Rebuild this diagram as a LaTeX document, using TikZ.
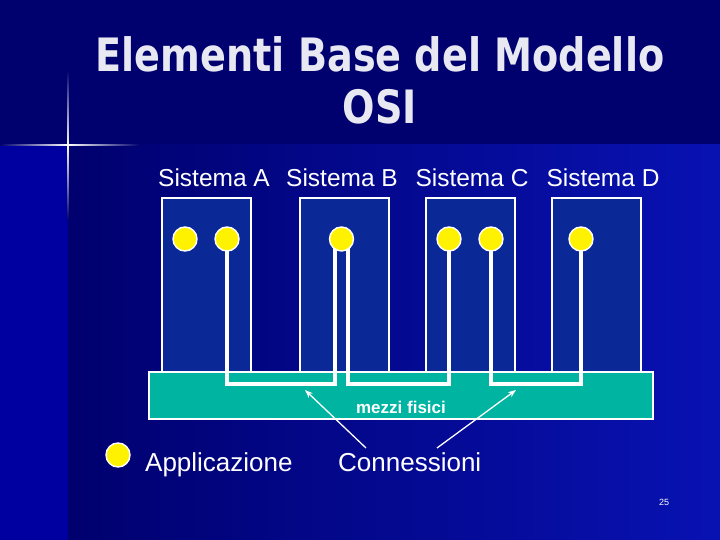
\documentclass[tikz,border=0pt]{standalone}
\usepackage{fontspec}
\setmainfont{Liberation Sans}
\newfontfamily\titlefont{DejaVu Sans}[FakeStretch=0.83]
\usepackage{tikz}
\usetikzlibrary{arrows.meta, calc, positioning}

\definecolor{navy}{RGB}{0,0,110}
\definecolor{brightblue}{RGB}{8,18,178}
\definecolor{stripblue}{RGB}{0,0,160}
\definecolor{boxblue}{RGB}{10,40,150}
\definecolor{teal}{RGB}{0,180,162}
\definecolor{titlegrey}{RGB}{232,232,242}

\tikzset{
  sysbox/.style={draw=white, line width=1.6pt, fill=boxblue, minimum width=89pt, minimum height=175pt, inner sep=0pt},
  band/.style={draw=white, line width=1.6pt, fill=teal, minimum width=504pt, minimum height=47pt, inner sep=0pt},
  app/.style={circle, draw=white, line width=1.4pt, fill=yellow, minimum size=24pt, inner sep=0pt},
  link/.style={draw=white, line width=4pt},
  hint/.style={draw=white, line width=1.3pt, -{Stealth[length=8pt,width=6pt]}},
  systxt/.style={text=white, anchor=base, inner sep=0pt, font=\fontsize{24.5}{26}\selectfont},
  legtxt/.style={text=white, anchor=base west, inner sep=0pt, font=\fontsize{26}{28}\selectfont},
  titletxt/.style={text=titlegrey, anchor=base, inner sep=0pt, font=\titlefont\bfseries\fontsize{46}{50}\selectfont},
}

\begin{document}
\begin{tikzpicture}[x=1pt,y=-1pt]
    \useasboundingbox (0,0) rectangle (720,540);
    % background and light flare
    \fill[navy] (0,0) rectangle (720,540);
    \shade[left color=navy, right color=brightblue] (68,145) rectangle (720,540);
    \fill[stripblue] (0,145) rectangle (68,540);
    \shade[left color=navy, right color=white] (0,144.3) rectangle (68,145.7);
    \shade[left color=white, right color=navy] (68,144.3) rectangle (140,145.7);
    \shade[top color=navy, bottom color=white] (67.3,70) rectangle (68.7,145);
    \shade[top color=white, bottom color=navy] (67.3,145) rectangle (68.7,220);

    % title
    \node[titletxt] (title) at (380,72) {Elementi Base del Modello};
    \node[titletxt] (titleosi) at (380,124) {OSI};

    % systems
    \node[sysbox] (sysA) at (206.5,285.5) {};
    \node[sysbox] (sysB) at (344.5,285.5) {};
    \node[sysbox] (sysC) at (470.5,285.5) {};
    \node[sysbox] (sysD) at (596.5,285.5) {};
    \node[systxt] (nameA) at (214,187) {Sistema A};
    \node[systxt] (nameB) at (342,187) {Sistema B};
    \node[systxt] (nameC) at (472,187) {Sistema C};
    \node[systxt] (nameD) at (603,187) {Sistema D};

    % physical medium
    \node[band] (medium) at (401,395.5) {};
    \node[text=white, anchor=base, inner sep=0pt, font=\bfseries\fontsize{17}{19}\selectfont] (mediumtxt) at (401,413) {mezzi fisici};

    % connections
    \coordinate (a1) at (185,239);
    \coordinate (a2) at (227,239);
    \coordinate (b1) at (341.5,239);
    \coordinate (c1) at (449,239);
    \coordinate (c2) at (491,239);
    \coordinate (d1) at (581,239);
    \coordinate (b1l) at ($(b1)+(-6.5,0)$);
    \coordinate (b1r) at ($(b1)+(6.5,0)$);
    \coordinate (bus) at (0,383.5);
    \draw[link] (a2) -- (a2 |- bus) -- (b1l |- bus) -- (b1l);
    \draw[link] (b1r) -- (b1r |- bus) -- (c1 |- bus) -- (c1);
    \draw[link] (c2) -- (c2 |- bus) -- (d1 |- bus) -- (d1);

    % applications
    \foreach \p in {a1,a2,b1,c1,c2,d1}
        \node[app] (app\p) at (\p) {};

    % legend
    \node[app] (legapp) at (118,455) {};
    \node[legtxt] (appl) at (145,471) {Applicazione};
    \node[legtxt] (conn) at (338,471) {Connessioni};
    \coordinate (tipL) at (305,390);
    \coordinate (tipR) at (516,390);
    \draw[hint] ([shift={(28,-23)}]conn.base west) -- (tipL);
    \draw[hint] ([shift={(99,-23)}]conn.base west) -- (tipR);

    \node[text=white, inner sep=0pt, font=\fontsize{9}{10}\selectfont] (pagenum) at (664,502) {25};
\end{tikzpicture}
\end{document}
